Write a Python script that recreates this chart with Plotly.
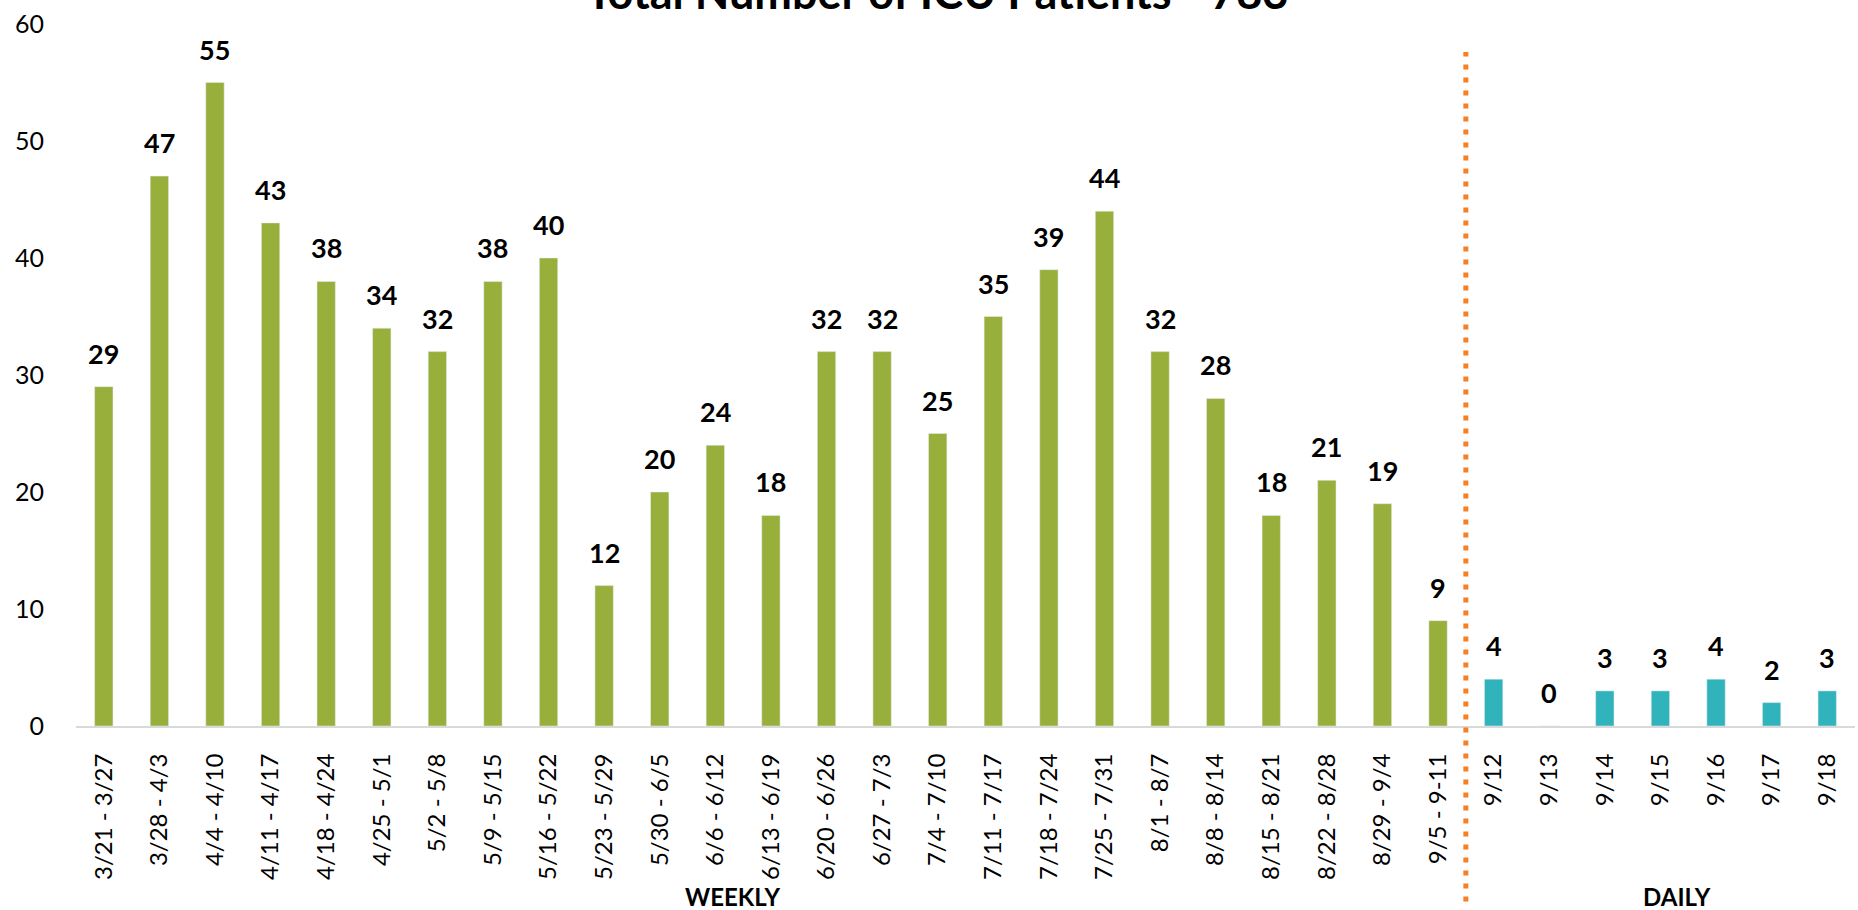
import plotly.graph_objects as go

weekly_labels = ["3/21 - 3/27", "3/28 - 4/3", "4/4 - 4/10", "4/11 - 4/17", "4/18 - 4/24",
                 "4/25 - 5/1", "5/2 - 5/8", "5/9 - 5/15", "5/16 - 5/22", "5/23 - 5/29",
                 "5/30 - 6/5", "6/6 - 6/12", "6/13 - 6/19", "6/20 - 6/26", "6/27 - 7/3",
                 "7/4 - 7/10", "7/11 - 7/17", "7/18 - 7/24", "7/25 - 7/31", "8/1 - 8/7",
                 "8/8 - 8/14", "8/15 - 8/21", "8/22 - 8/28", "8/29 - 9/4", "9/5 - 9-11"]
weekly_values = [29, 47, 55, 43, 38, 34, 32, 38, 40, 12, 20, 24, 18, 32, 32, 25, 35, 39, 44,
                 32, 28, 18, 21, 19, 9]
daily_labels = ["9/12", "9/13", "9/14", "9/15", "9/16", "9/17", "9/18"]
daily_values = [4, 0, 3, 3, 4, 2, 3]
title_text = "Total Number of ICU Patients - 783"

GREEN = "#98B03B"
TEAL = "#31B3BB"
ORANGE = "#F58025"
FONT = "Lato"

all_labels = weekly_labels + daily_labels

fig = go.Figure()
fig.add_trace(go.Bar(x=weekly_labels, y=weekly_values, marker_color=GREEN, name="Weekly"))
fig.add_trace(go.Bar(x=daily_labels, y=daily_values, marker_color=TEAL, name="Daily"))

for lab, val in zip(all_labels, weekly_values + daily_values):
    fig.add_annotation(x=lab, y=val, xref="x", yref="y", text=str(val), showarrow=False,
                       yanchor="bottom", yshift=15,
                       font=dict(family=FONT, size=27, color="black", weight="bold"))

n_week = len(weekly_labels)
fig.add_shape(type="line", xref="x", yref="paper", x0=n_week - 0.5, x1=n_week - 0.5,
              y0=-0.25, y1=0.96, line=dict(color=ORANGE, width=5, dash="5px,8px"))

fig.add_annotation(x=(n_week - 1) / 2 - 0.7, y=-0.243, xref="x", yref="paper", text="WEEKLY",
                   showarrow=False, yanchor="middle",
                   font=dict(family=FONT, size=24, color="black", weight="bold"))
fig.add_annotation(x=n_week + (len(daily_labels) - 1) / 2 + 0.3, y=-0.243, xref="x", yref="paper",
                   text="DAILY", showarrow=False, yanchor="middle",
                   font=dict(family=FONT, size=24, color="black", weight="bold"))

fig.add_annotation(x=0.484, y=1, xref="paper", yref="paper", text=title_text, showarrow=False,
                   yanchor="bottom", yshift=3,
                   font=dict(family=FONT, size=45, color="black", weight="bold"))

fig.update_layout(
    width=1858, height=910,
    margin=dict(l=76, r=3, t=24, b=184, autoexpand=False),
    plot_bgcolor="white", paper_bgcolor="white",
    showlegend=False, bargap=0.67, barmode="overlay",
    font=dict(family=FONT, color="black"),
)
fig.update_xaxes(type="category", categoryorder="array", categoryarray=all_labels,
                 tickangle=-90, showline=True, linecolor="#D9D9D9", linewidth=2,
                 ticks="outside", ticklen=16, tickcolor="rgba(0,0,0,0)", automargin=False,
                 tickfont=dict(family=FONT, size=24, color="black"), showgrid=False)
fig.update_yaxes(range=[0, 60], dtick=10, showgrid=False, zeroline=False, showline=False,
                 ticks="outside", ticklen=26, tickcolor="rgba(0,0,0,0)", automargin=False,
                 tickfont=dict(family=FONT, size=25, color="black"))

fig.write_html("out.html", config={"displayModeBar": False},
               post_script="document.body.style.margin='0';")
